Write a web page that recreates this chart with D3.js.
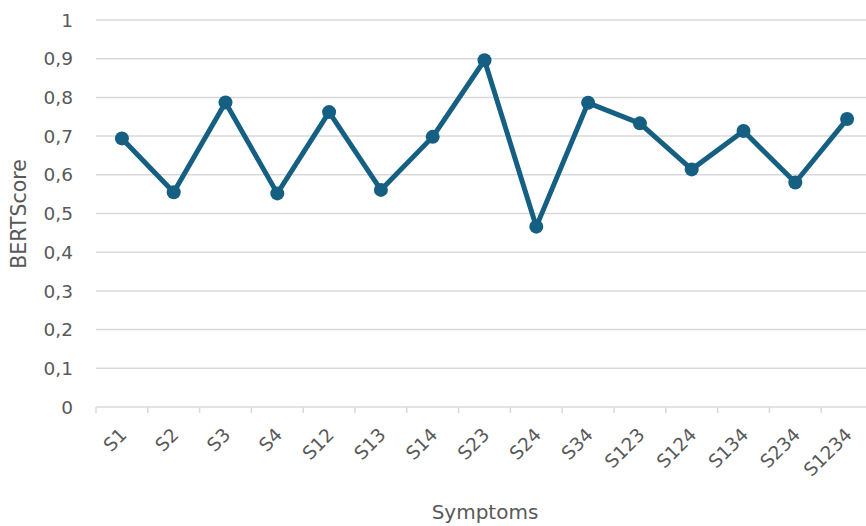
<!DOCTYPE html>
<html><head><meta charset="utf-8">
<script src="https://cdn.jsdelivr.net/npm/d3@7"></script>
<style>body{margin:0;background:#fff}svg{display:block}</style>
</head><body>
<svg id="c" width="866" height="526"></svg>
<script>
const categories = ["S1","S2","S3","S4","S12","S13","S14","S23","S24","S34","S123","S124","S134","S234","S1234"];
const values = [0.694,0.555,0.787,0.552,0.762,0.561,0.698,0.896,0.466,0.786,0.733,0.614,0.713,0.580,0.744];
const yTicks = [0,0.1,0.2,0.3,0.4,0.5,0.6,0.7,0.8,0.9,1];
const xTitle = "Symptoms";
const yTitle = "BERTScore";

const svg = d3.select("#c");
const font = "'DejaVu Sans', sans-serif";
const textColor = "#595959";
const gridColor = "#d9d9d9";
const lineColor = "#156082";

const x = d3.scaleBand().domain(categories).range([96, 873]).padding(0);
const y = d3.scaleLinear().domain([0,1]).range([407, 20]);

// gridlines
svg.append("g").selectAll("line").data(yTicks).join("line")
  .attr("x1", 96).attr("x2", 873)
  .attr("y1", d => y(d)).attr("y2", d => y(d))
  .attr("stroke", gridColor).attr("stroke-width", 1.5);

// y labels
const fmt = d => d3.format(".1~f")(d).replace(".", ",");
svg.append("g").selectAll("text").data(yTicks).join("text")
  .attr("x", 73).attr("y", d => y(d)).attr("dy", "0.36em")
  .attr("text-anchor", "end").attr("font-family", font).attr("font-size", 18.5)
  .attr("fill", textColor).text(fmt);

// x ticks at band boundaries
const bounds = categories.map(c => x(c)).concat([x(categories[categories.length-1]) + x.bandwidth()]);
svg.append("g").selectAll("line").data(bounds).join("line")
  .attr("x1", d => d).attr("x2", d => d)
  .attr("y1", y(0)).attr("y2", y(0) + 6)
  .attr("stroke", gridColor).attr("stroke-width", 1.5);

// x labels
svg.append("g").selectAll("text").data(categories).join("text")
  .attr("transform", d => `translate(${x(d) + x.bandwidth()/2 + 6},${y(0) + 29}) rotate(-45)`)
  .attr("text-anchor", "end").attr("font-family", font).attr("font-size", 18.5)
  .attr("fill", textColor).text(d => d);

// line
const line = d3.line().x((d,i) => x(categories[i]) + x.bandwidth()/2).y(d => y(d));
svg.append("path").datum(values).attr("d", line)
  .attr("fill", "none").attr("stroke", lineColor).attr("stroke-width", 5)
  .attr("stroke-linejoin", "round");
svg.append("g").selectAll("circle").data(values).join("circle")
  .attr("cx", (d,i) => x(categories[i]) + x.bandwidth()/2).attr("cy", d => y(d))
  .attr("r", 7).attr("fill", lineColor);

// titles
svg.append("text").attr("x", 485).attr("y", 519)
  .attr("text-anchor", "middle").attr("font-family", font).attr("font-size", 20)
  .attr("fill", textColor).text(xTitle);
svg.append("text").attr("transform", "translate(26,214) rotate(-90)")
  .attr("text-anchor", "middle").attr("font-family", font).attr("font-size", 20.5)
  .attr("fill", textColor).text(yTitle);
</script>
</body></html>
